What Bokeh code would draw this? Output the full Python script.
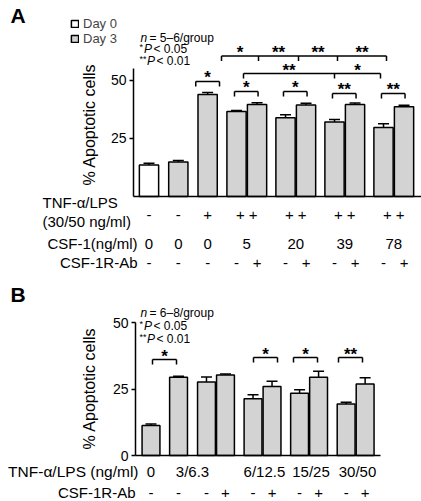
import math
from bokeh.plotting import figure
from bokeh.models import (Range1d, FixedTicker, Label, Legend, LegendItem,
                          Whisker, TeeHead, ColumnDataSource)
from bokeh.layouts import column
from bokeh.embed import file_html
from bokeh.resources import INLINE

# ---------------- data ----------------
# Panel A
a_day = ["Day 0", "Day 3", "Day 3", "Day 3", "Day 3", "Day 3",
         "Day 3", "Day 3", "Day 3", "Day 3", "Day 3"]
a_tnf = ["-", "-", "+", "+", "+", "+", "+", "+", "+", "+", "+"]
a_csf1 = ["0", "0", "0", "5", "5", "20", "20", "39", "39", "78", "78"]
a_ab = ["-", "-", "-", "-", "+", "-", "+", "-", "+", "-", "+"]
a_mean = [13.5, 14.8, 43.8, 36.5, 39.5, 33.8, 39.3, 32.0, 39.5, 29.6, 38.5]
a_sem = [0.8, 0.7, 0.8, 0.4, 0.7, 1.3, 0.7, 1.0, 0.6, 1.6, 0.7]
a_yticks = [25, 50]
a_n = "= 5–6/group"
a_sig_row1 = ["*", "**", "**", "**"]
a_sig_row2 = ["**", "*"]
a_sig_single = ["*"]
a_sig_pairs = ["*", "*", "**", "**"]

# Panel B
b_tnf_groups = ["0", "3/6.3", "6/12.5", "15/25", "30/50"]
b_ab = ["-", "-", "-", "+", "-", "+", "-", "+", "-", "+"]
b_mean = [11.3, 29.4, 27.6, 30.3, 21.3, 25.9, 23.4, 29.4, 19.4, 26.9]
b_sem = [0.5, 0.4, 1.9, 0.3, 1.5, 2.0, 1.3, 2.3, 0.6, 2.3]
b_yticks = [0, 25, 50]
b_n = "= 6–8/group"
b_sig = ["*", "*", "*", "**"]

# ---------------- styling / layout ----------------
FONT = "Liberation Sans"
GRAY = "#d3d3d3"
LW = 1.5
BAR_W = 0.94
STAR_SIZE = 17
STAR_DROP = 3.4   # px from star centre to text baseline


def positions(n_single, single_step, first_pair, pair_step, n_pairs):
    xs = [i * single_step for i in range(n_single)]
    for k in range(n_pairs):
        left = first_pair + k * pair_step
        xs += [left, left + 1]
    return xs


a_x = positions(3, 1.43, 4.27, 2.39, 4)
b_x = positions(2, 1.45, 2.92, 2.45, 4)

# page-pixel -> data helpers for each panel (layout only)
A_X0, A_SX, A_Y0, A_SY = 148.5, 20.5, 196.0, 2.33
B_X0, B_SX, B_Y0, B_SY = 150.5, 19.0, 455.0, 2.66


def ax(px): return (px - A_X0) / A_SX
def ay(py): return (A_Y0 - py) / A_SY
def bx(px): return (px - B_X0) / B_SX
def by(py): return (B_Y0 - py) / B_SY


def lab(p, x, y, text, size=15, align="center", baseline="middle",
        style="normal", angle=0.0):
    p.add_layout(Label(x=x, y=y, text=text, text_font=FONT,
                       text_font_size=f"{size}px", text_align=align,
                       text_baseline=baseline, text_font_style=style,
                       angle=angle, text_color="black"))


def style_fig(p, yticks, ybounds, y_at, xbounds):
    p.outline_line_color = None
    p.xgrid.visible = False
    p.ygrid.visible = False
    p.xaxis.fixed_location = 0
    p.xaxis.ticker = FixedTicker(ticks=[])
    p.xaxis.major_tick_line_color = None
    p.xaxis.minor_tick_line_color = None
    p.xaxis.axis_line_width = LW
    p.xaxis.axis_line_color = "black"
    p.xaxis.bounds = xbounds
    p.yaxis.fixed_location = y_at
    p.yaxis.ticker = FixedTicker(ticks=yticks)
    p.yaxis.bounds = ybounds
    p.yaxis.axis_line_width = LW
    p.yaxis.axis_line_color = "black"
    p.yaxis.major_tick_in = 0
    p.yaxis.major_tick_out = 4
    p.yaxis.major_tick_line_width = LW
    p.yaxis.major_tick_line_color = "black"
    p.yaxis.minor_tick_line_color = None
    p.yaxis.major_label_text_font = FONT
    p.yaxis.major_label_text_font_size = "14px"
    p.yaxis.major_label_text_color = "black"
    p.yaxis.major_label_standoff = 3


def bars(p, xs, means, sems, fill):
    src = ColumnDataSource(dict(x=xs, top=means,
                                upper=[m + s for m, s in zip(means, sems)]))
    r = p.vbar(x="x", top="top", bottom=0, width=BAR_W, source=src,
               fill_color=fill, line_color="black", line_width=LW)
    p.add_layout(Whisker(source=src, base="x", lower="top", upper="upper",
                         line_color="black", line_width=LW,
                         upper_head=TeeHead(size=11, line_color="black", line_width=LW),
                         lower_head=None))
    return r


def bracket(p, cy, xs, y_line, stars, star_center):
    tick = 5 / (A_SY if cy is ay else B_SY)
    yl = cy(y_line)
    lx = [[xs[0], xs[-1]]]
    ly = [[yl, yl]]
    for x in xs:
        lx.append([x, x])
        ly.append([yl, yl - tick])
    p.multi_line(lx, ly, line_color="black", line_width=LW)
    for i in range(len(xs) - 1):
        m = (xs[i] + xs[i + 1]) / 2
        lab(p, m, cy(star_center + STAR_DROP), stars[i], STAR_SIZE,
            "center", "alphabetic", "bold")


def note(p, cx, cy, x0, y_centers, ntext):
    b1, b2, b3 = [y + 4.3 for y in y_centers]
    lab(p, cx(x0), cy(b1), "n", 12, "left", "alphabetic", "italic")
    lab(p, cx(x0 + 9), cy(b1), ntext, 12, "left", "alphabetic")
    lab(p, cx(x0 - 1), cy(b2 - 2), "*", 9, "left", "alphabetic")
    lab(p, cx(x0 + 3.5), cy(b2), "P", 12, "left", "alphabetic", "italic")
    lab(p, cx(x0 + 13), cy(b2), "< 0.05", 12, "left", "alphabetic")
    lab(p, cx(x0 - 1), cy(b3 - 2), "**", 9, "left", "alphabetic")
    lab(p, cx(x0 + 6.5), cy(b3), "P", 12, "left", "alphabetic", "italic")
    lab(p, cx(x0 + 16), cy(b3), "< 0.01", 12, "left", "alphabetic")


# ================= Panel A =================
pA = figure(width=421, height=280, x_range=Range1d(ax(0), ax(421)),
            y_range=Range1d(ay(280), ay(0)), output_backend="svg",
            toolbar_location=None, min_border=0)
style_fig(pA, a_yticks, (0, 55), ax(133), (ax(133), ax(421)))

i0 = [i for i, d in enumerate(a_day) if d == "Day 0"]
i3 = [i for i, d in enumerate(a_day) if d == "Day 3"]
r0 = bars(pA, [a_x[i] for i in i0], [a_mean[i] for i in i0], [a_sem[i] for i in i0], "white")
r3 = bars(pA, [a_x[i] for i in i3], [a_mean[i] for i in i3], [a_sem[i] for i in i3], GRAY)

legend = Legend(items=[LegendItem(label="Day 0", renderers=[r0]),
                       LegendItem(label="Day 3", renderers=[r3])],
                location=(70, 234), glyph_width=9, glyph_height=9,
                label_height=12, label_standoff=4, spacing=0, padding=0, margin=0,
                label_text_font=FONT, label_text_font_size="13px",
                border_line_color=None, background_fill_alpha=0)
pA.add_layout(legend)

# significance brackets (panel A)
bracket(pA, ay, [ax(v) for v in (221, 258, 298, 337, 386)], 55.5, a_sig_row1, 49)
bracket(pA, ay, [ax(v) for v in (243, 334, 380)], 73, a_sig_row2, 67)
bracket(pA, ay, [a_x[2] - 0.58, a_x[2] + 0.58], 81, a_sig_single, 74)
pair_lines = [91, 91, 93, 93]
for k in range(4):
    l = a_x[3 + 2 * k]
    r = a_x[4 + 2 * k]
    bracket(pA, ay, [l - 0.1, r + 0.05], pair_lines[k], [a_sig_pairs[k]], pair_lines[k] - 7)

# texts panel A
lab(pA, ax(10), ay(15), "A", 21, "left", "middle", "bold")
note(pA, ax, ay, 140, (33, 44.5, 56), a_n)
lab(pA, ax(89), ay(124), "% Apoptotic cells", 16, "center", "middle", angle=math.pi / 2)

lab(pA, ax(42), ay(202), "TNF-α/LPS", 15, "left")
lab(pA, ax(42), ay(221), "(30/50 ng/ml)", 15, "left")
lab(pA, ax(137), ay(243), "CSF-1(ng/ml)", 15, "right")
lab(pA, ax(137), ay(262), "CSF-1R-Ab", 15, "right")
for i in range(3):
    lab(pA, a_x[i], ay(214), a_tnf[i], 15)
    lab(pA, a_x[i], ay(243), a_csf1[i], 15)
for k in range(4):
    i = 3 + 2 * k
    c = (a_x[i] + a_x[i + 1]) / 2
    lab(pA, c, ay(214), a_tnf[i] + " " + a_tnf[i + 1], 15)
    lab(pA, c, ay(243), a_csf1[i], 15)
for i in range(len(a_x)):
    lab(pA, a_x[i], ay(262), a_ab[i], 15)

# ================= Panel B =================
pB = figure(width=421, height=221, x_range=Range1d(bx(0), bx(421)),
            y_range=Range1d(by(501), by(280)), output_backend="svg",
            toolbar_location=None, min_border=0)
style_fig(pB, b_yticks, (0, 50), bx(135), (bx(135), bx(380)))
bars(pB, b_x, b_mean, b_sem, GRAY)

bracket(pB, by, [bx(152), bx(176)], 359, [b_sig[0]], 353)
for k, (l, r) in enumerate([(253, 277), (293, 317), (338, 362)]):
    bracket(pB, by, [bx(l), bx(r)], 357, [b_sig[k + 1]], 350.5)

lab(pB, bx(10), by(294), "B", 21, "left", "middle", "bold")
note(pB, bx, by, 140, (308, 321.5, 334), b_n)
lab(pB, bx(89), by(388), "% Apoptotic cells", 16, "center", "middle", angle=math.pi / 2)

lab(pB, bx(138), by(471), "TNF-α/LPS (ng/ml)", 15.5, "right")
lab(pB, bx(135), by(492), "CSF-1R-Ab", 15, "right")
lab(pB, b_x[0], by(471), b_tnf_groups[0], 15)
lab(pB, (b_x[1] + b_x[2]) / 2, by(471), b_tnf_groups[1], 15)
for k in range(3):
    i = 4 + 2 * k
    lab(pB, (b_x[i] + b_x[i + 1]) / 2 + 0.1, by(471), b_tnf_groups[2 + k], 15)
for i in range(len(b_x)):
    lab(pB, b_x[i], by(492), b_ab[i], 15)

layout = column(pA, pB, spacing=0)
open("out.html", "w").write(file_html(layout, INLINE))
